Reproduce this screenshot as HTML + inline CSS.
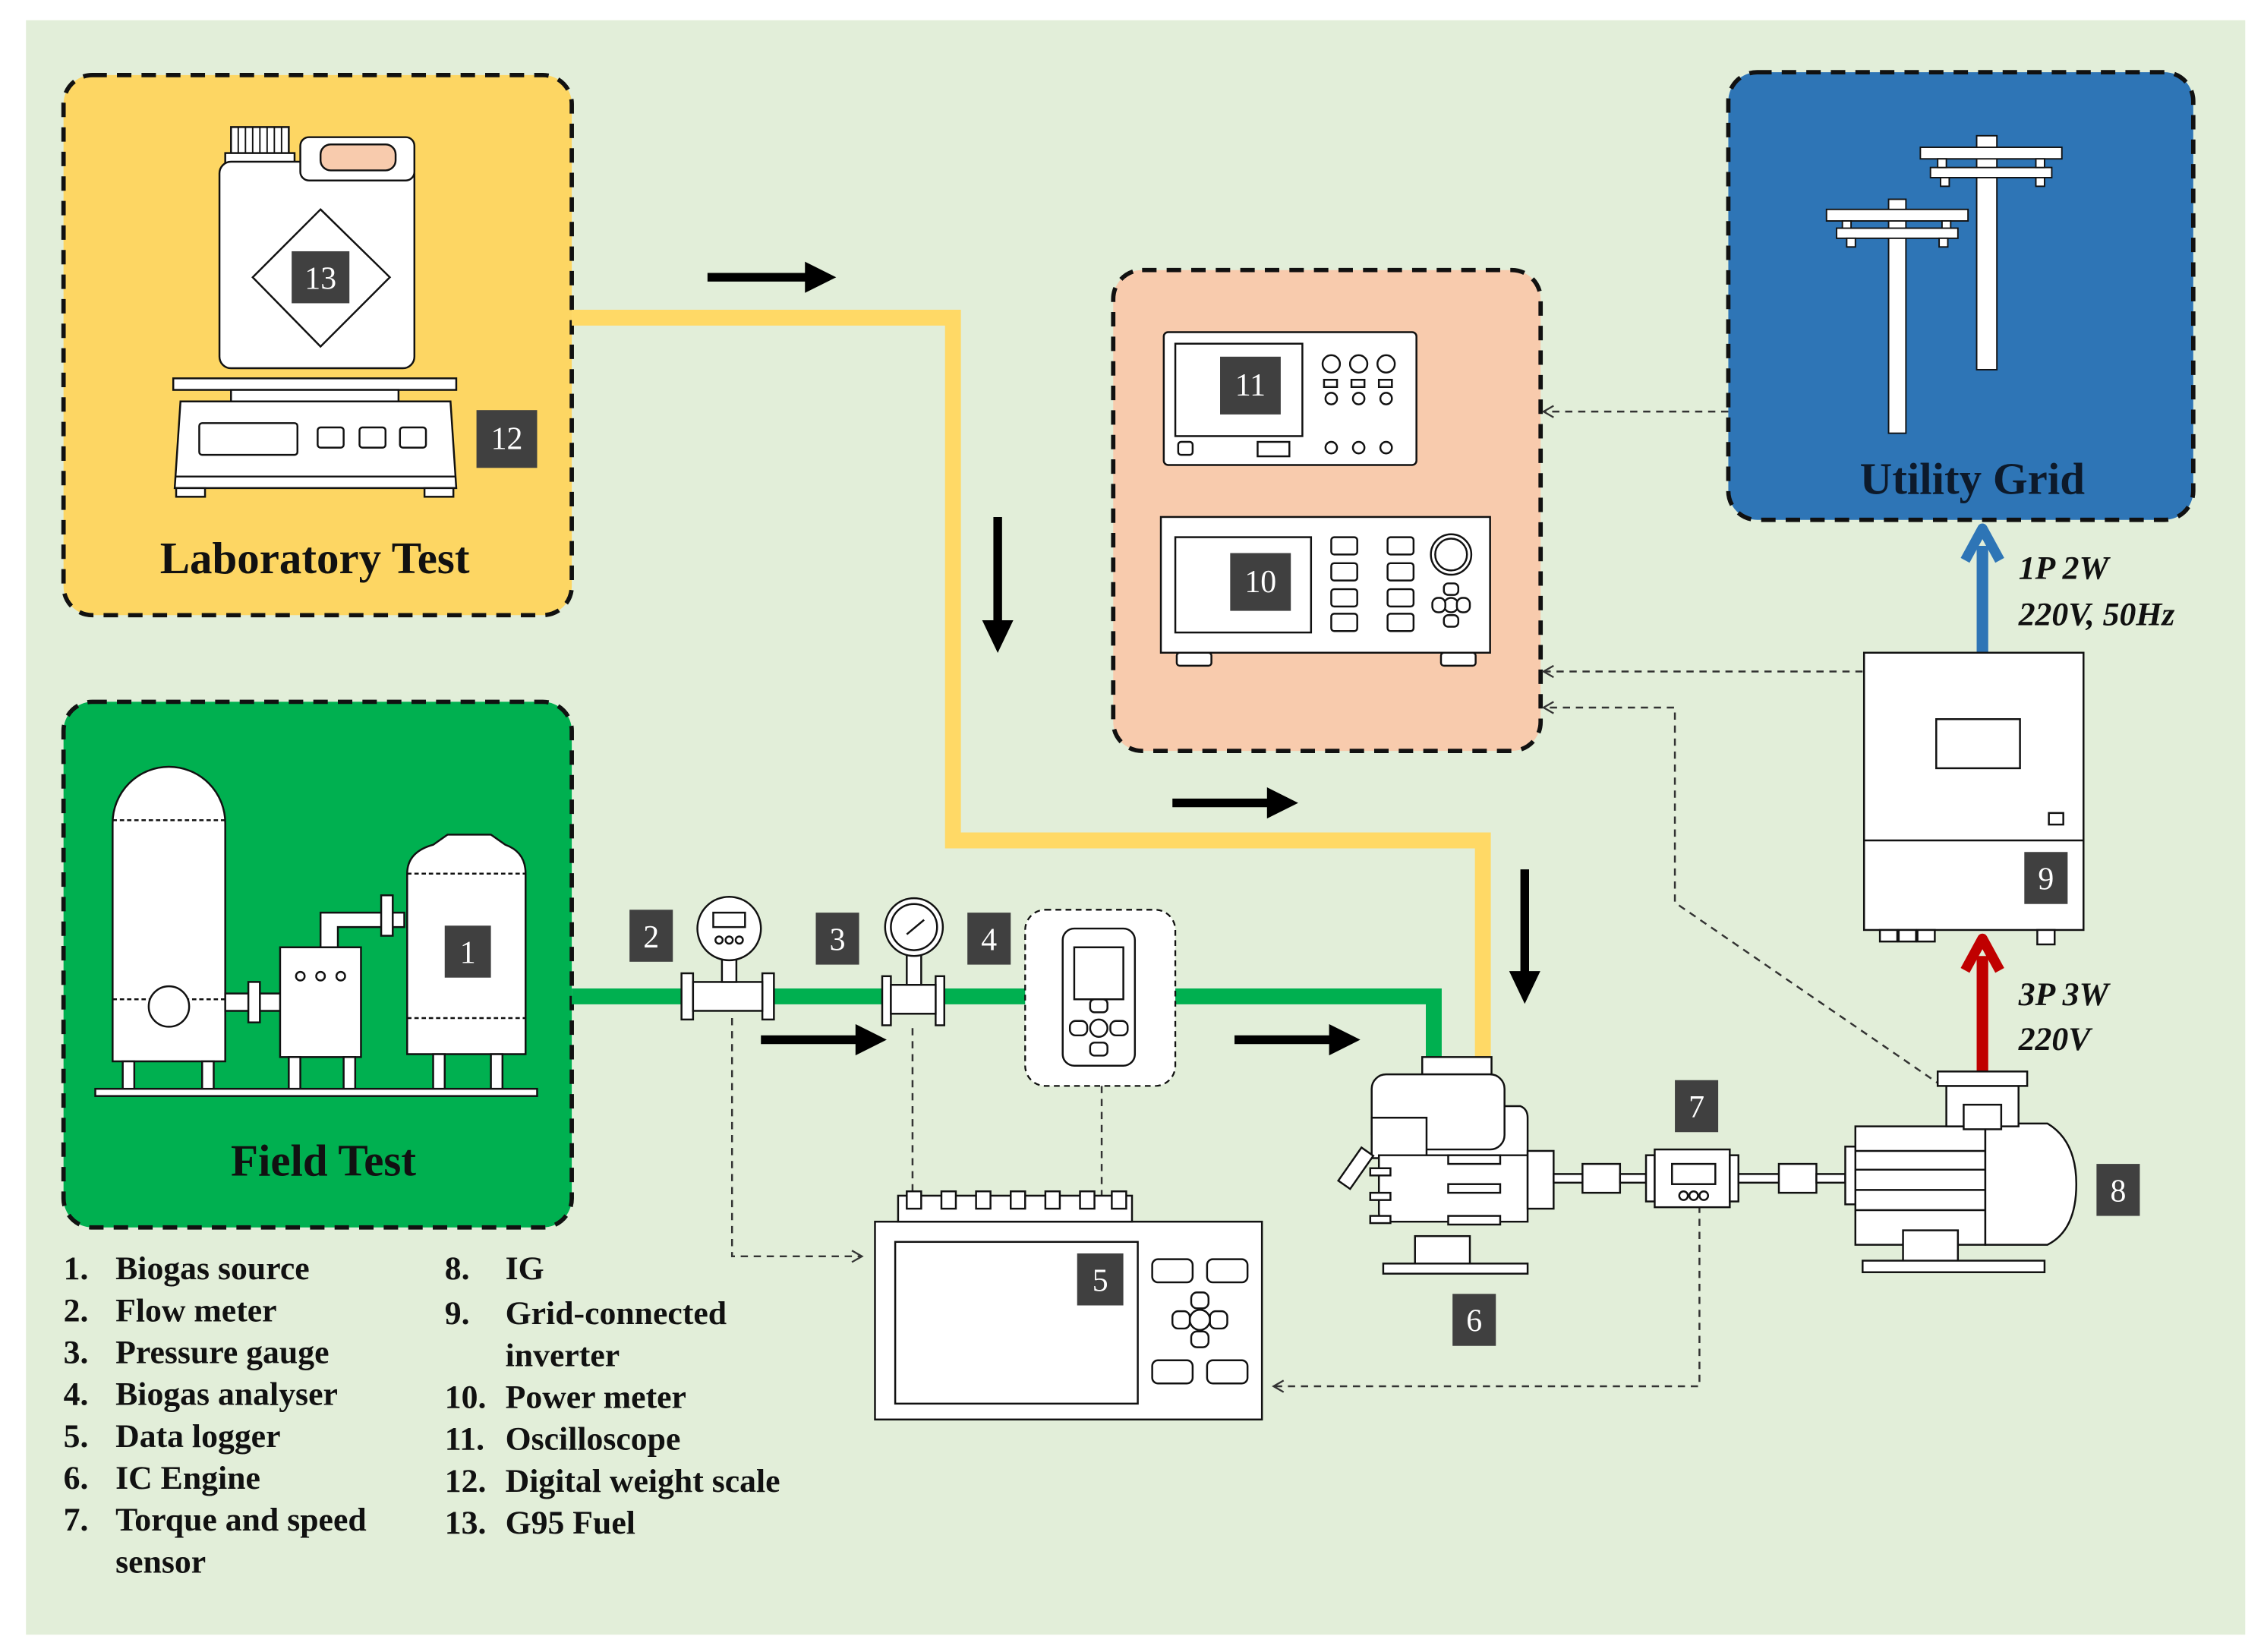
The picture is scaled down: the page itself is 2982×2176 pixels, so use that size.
<!DOCTYPE html>
<html><head><meta charset="utf-8"><style>
html,body{margin:0;padding:0;background:#fff;}
svg{display:block;}
.t{font-family:"Liberation Serif",serif;font-weight:bold;}
.n{font-family:"Liberation Serif",serif;fill:#fff;font-size:22px;text-anchor:middle;}
</style></head><body>
<svg width="2982" height="2176" viewBox="0 0 1568 1144" preserveAspectRatio="none" xmlns="http://www.w3.org/2000/svg">
<defs>
<marker id="oa" markerWidth="10" markerHeight="10" refX="8" refY="5" orient="auto" markerUnits="userSpaceOnUse"><path d="M1,1 L8,5 L1,9" fill="none" stroke="#333" stroke-width="1.2"/></marker>
</defs>
<rect x="0" y="0" width="1568" height="1144" fill="#fff"/>
<rect x="18" y="14" width="1537" height="1118" fill="#e2eed9"/>

<rect x="44" y="52" width="352" height="374" rx="20" fill="#fdd663" stroke="#111" stroke-width="3" stroke-dasharray="10,7"/>
<rect x="44" y="486" width="352" height="364" rx="20" fill="#00b050" stroke="#111" stroke-width="3" stroke-dasharray="10,7"/>
<rect x="771" y="187" width="296" height="333" rx="20" fill="#f8cbad" stroke="#111" stroke-width="3" stroke-dasharray="10,7"/>
<rect x="1197" y="50" width="322" height="310" rx="20" fill="#2e75b6" stroke="#111" stroke-width="3" stroke-dasharray="10,7"/>

<path d="M396,220 H660 V582 H1027 V735" fill="none" stroke="#ffd966" stroke-width="11"/>
<path d="M396,690 H993 V735" fill="none" stroke="#00b050" stroke-width="11"/>

<g fill="#000" stroke="#000">
<line x1="490" y1="192" x2="560" y2="192" stroke-width="6"/><path d="M558,182 L578,192 L558,202Z"/>
<line x1="691" y1="358" x2="691" y2="432" stroke-width="6"/><path d="M681,430 L691,451 L701,430Z"/>
<line x1="812" y1="556" x2="880" y2="556" stroke-width="6"/><path d="M878,546 L898,556 L878,566Z"/>
<line x1="1056" y1="602" x2="1056" y2="675" stroke-width="6"/><path d="M1046,673 L1056,694 L1066,673Z"/>
<line x1="527" y1="720" x2="595" y2="720" stroke-width="6"/><path d="M593,710 L613,720 L593,730Z"/>
<line x1="855" y1="720" x2="923" y2="720" stroke-width="6"/><path d="M921,710 L941,720 L921,730Z"/>
</g>
<line x1="1373" y1="452" x2="1373" y2="378" stroke="#2e75b6" stroke-width="8"/>
<path d="M1361,388 L1373,366 L1385,388" fill="none" stroke="#2e75b6" stroke-width="7" stroke-linejoin="round"/>
<line x1="1373" y1="742" x2="1373" y2="662" stroke="#c00000" stroke-width="8"/>
<path d="M1361,672 L1373,650 L1385,672" fill="none" stroke="#c00000" stroke-width="7" stroke-linejoin="round"/>
<text class="t" x="1398" y="401" font-size="23" font-style="italic" fill="#111">1P 2W</text>
<text class="t" x="1398" y="433" font-size="23" font-style="italic" fill="#111">220V, 50Hz</text>
<text class="t" x="1398" y="696" font-size="23" font-style="italic" fill="#111">3P 3W</text>
<text class="t" x="1398" y="727" font-size="23" font-style="italic" fill="#111">220V</text>

<g fill="none" stroke="#333" stroke-width="1.3" stroke-dasharray="5,4">
<path d="M1197,285 H1069" marker-end="url(#oa)"/>
<path d="M1290,465 H1069" marker-end="url(#oa)"/>
<path d="M1345,752 L1160,625 V490 H1069" marker-end="url(#oa)"/>
<path d="M507,705 V870 H597" marker-end="url(#oa)"/>
<path d="M632,712 V847" marker-end="url(#oa)"/>
<path d="M763,752 V847" marker-end="url(#oa)"/>
<path d="M1177,835 V960 H882" marker-end="url(#oa)"/>
</g>

<g stroke="#111" stroke-width="1.3" fill="#fff">
<rect x="160" y="88" width="40" height="20"/>
<rect x="156" y="106" width="48" height="8"/>
<rect x="152" y="112" width="135" height="143" rx="8"/>
<rect x="208" y="95" width="79" height="30" rx="6"/>
<rect x="222" y="100" width="52" height="18" rx="7" fill="#f8cbad"/>
<path d="M222,145 L270,192 L222,240 L175,192Z"/>
<rect x="120" y="262" width="196" height="8"/>
<rect x="160" y="270" width="116" height="8"/>
<path d="M125,278 H312 L316,338 H121Z"/>
<rect x="138" y="293" width="68" height="22" rx="2"/>
<rect x="220" y="296" width="18" height="14" rx="2"/><rect x="249" y="296" width="18" height="14" rx="2"/><rect x="277" y="296" width="18" height="14" rx="2"/>
<line x1="121" y1="330" x2="316" y2="330"/>
<rect x="122" y="338" width="20" height="6"/><rect x="294" y="338" width="20" height="6"/>
</g>
<g stroke="#111" stroke-width="1" fill="none"><path d="M165,88 V106 M170,88 V106 M175,88 V106 M180,88 V106 M185,88 V106 M190,88 V106 M195,88 V106"/></g>
<rect x="202" y="174" width="40" height="36" fill="#404040"/><text class="n" x="222" y="200">13</text>
<rect x="330" y="284" width="42" height="40" fill="#404040"/><text class="n" x="351" y="311">12</text>
<text class="t" x="218" y="397" font-size="31" text-anchor="middle" fill="#111">Laboratory Test</text>

<g stroke="#111" stroke-width="1.3" fill="#fff">
<path d="M78,735 V570 A39,39 0 0 1 156,570 V735Z"/>
<line x1="78" y1="568" x2="156" y2="568" stroke-dasharray="3,2"/>
<line x1="78" y1="692" x2="156" y2="692" stroke-dasharray="3,2"/>
<circle cx="117" cy="697" r="14"/>
<rect x="85" y="735" width="8" height="20"/><rect x="140" y="735" width="8" height="20"/>
<path d="M156,688 H198 V700 H156Z"/>
<rect x="172" y="680" width="8" height="28"/>
<rect x="194" y="656" width="56" height="76"/>
<path d="M222,656 V632 H280 V642 H234 V656Z"/>
<rect x="264" y="620" width="8" height="28"/>
<path d="M282,730 V605 Q282,590 300,585 L310,578 H340 L350,585 Q364,590 364,605 V730Z"/>
<path d="M282,605 H364 M282,705 H364" stroke-dasharray="3,2" fill="none"/>
<rect x="200" y="732" width="8" height="22"/><rect x="238" y="732" width="8" height="22"/>
<rect x="300" y="730" width="8" height="24"/><rect x="340" y="730" width="8" height="24"/>
<rect x="66" y="754" width="306" height="5"/>
<circle cx="208" cy="676" r="3"/><circle cx="222" cy="676" r="3"/><circle cx="236" cy="676" r="3"/>
</g>
<rect x="308" y="641" width="32" height="36" fill="#404040"/><text class="n" x="324" y="667">1</text>
<text class="t" x="224" y="814" font-size="31" text-anchor="middle" fill="#111">Field Test</text>

<g stroke="#111" stroke-width="1.3" fill="#fff">
<rect x="472" y="674" width="8" height="32"/><rect x="528" y="674" width="8" height="32"/>
<rect x="480" y="680" width="48" height="20"/>
<rect x="500" y="660" width="10" height="20"/>
<circle cx="505" cy="643" r="22"/>
<rect x="494" y="632" width="22" height="10"/>
<circle cx="498" cy="651" r="2.5"/><circle cx="505" cy="651" r="2.5"/><circle cx="512" cy="651" r="2.5"/>
<rect x="611" y="676" width="6" height="34"/><rect x="648" y="676" width="6" height="34"/>
<rect x="617" y="682" width="31" height="20"/>
<rect x="628" y="660" width="10" height="22"/>
<circle cx="633" cy="642" r="20"/><circle cx="633" cy="642" r="16"/>
<line x1="628" y1="647" x2="640" y2="637"/>
</g>
<rect x="436" y="630" width="30" height="36" fill="#404040"/><text class="n" x="451" y="656">2</text>
<rect x="565" y="632" width="30" height="36" fill="#404040"/><text class="n" x="580" y="658">3</text>
<rect x="670" y="632" width="30" height="36" fill="#404040"/><text class="n" x="685" y="658">4</text>
<rect x="710" y="630" width="104" height="122" rx="14" fill="#fff" stroke="#111" stroke-width="1.2" stroke-dasharray="4,3"/>
<g stroke="#111" stroke-width="1.3" fill="#fff">
<rect x="736" y="643" width="50" height="95" rx="8"/>
<rect x="744" y="656" width="34" height="36"/>
<circle cx="761" cy="712" r="6"/><rect x="741" y="707" width="12" height="10" rx="4"/><rect x="769" y="707" width="12" height="10" rx="4"/>
<rect x="755" y="692" width="12" height="9" rx="3"/><rect x="755" y="722" width="12" height="9" rx="3"/>
</g>
<g stroke="#111" stroke-width="1.3" fill="#fff">
<rect x="606" y="846" width="268" height="137"/>
<rect x="622" y="828" width="162" height="18"/>
<rect x="628" y="825" width="10" height="12"/><rect x="652" y="825" width="10" height="12"/><rect x="676" y="825" width="10" height="12"/><rect x="700" y="825" width="10" height="12"/><rect x="724" y="825" width="10" height="12"/><rect x="748" y="825" width="10" height="12"/><rect x="770" y="825" width="10" height="12"/>
<rect x="620" y="860" width="168" height="112"/>
<rect x="798" y="872" width="28" height="16" rx="4"/><rect x="836" y="872" width="28" height="16" rx="4"/>
<rect x="798" y="942" width="28" height="16" rx="4"/><rect x="836" y="942" width="28" height="16" rx="4"/>
<circle cx="831" cy="914" r="7"/><rect x="812" y="908" width="12" height="12" rx="4"/><rect x="838" y="908" width="12" height="12" rx="4"/><rect x="825" y="895" width="12" height="11" rx="4"/><rect x="825" y="922" width="12" height="11" rx="4"/>
</g>
<rect x="746" y="868" width="32" height="36" fill="#404040"/><text class="n" x="762" y="894">5</text>

<g stroke="#111" stroke-width="1.3" fill="#fff">
<rect x="985" y="732" width="48" height="12"/>
<path d="M966,830 V774 Q966,768 972,766 H1053 Q1058,768 1058,774 V830Z"/>
<rect x="950" y="744" width="92" height="52" rx="10"/>
<rect x="950" y="774" width="38" height="28"/>
<path d="M955,800 V840 Q955,846 962,846 H1058 V800Z"/>
<rect x="1058" y="797" width="18" height="40"/>
<rect x="934" y="795" width="10" height="28" transform="rotate(35 939 809)"/>
<rect x="949" y="809" width="14" height="5"/><rect x="949" y="826" width="14" height="5"/><rect x="949" y="842" width="14" height="5"/>
<rect x="1003" y="800" width="36" height="6"/><rect x="1003" y="820" width="36" height="6"/><rect x="1003" y="842" width="36" height="6"/>
<rect x="980" y="856" width="38" height="20"/>
<rect x="958" y="875" width="100" height="7"/>
<rect x="1076" y="813" width="22" height="6"/>
<rect x="1096" y="806" width="26" height="20"/>
<rect x="1122" y="813" width="18" height="6"/>
<rect x="1140" y="800" width="6" height="32"/>
<rect x="1146" y="796" width="52" height="40"/>
<rect x="1198" y="800" width="6" height="32"/>
<rect x="1158" y="806" width="30" height="14"/>
<circle cx="1166" cy="828" r="3"/><circle cx="1173" cy="828" r="3"/><circle cx="1180" cy="828" r="3"/>
<rect x="1204" y="813" width="30" height="6"/>
<rect x="1232" y="806" width="26" height="20"/>
<rect x="1258" y="813" width="20" height="6"/>
<rect x="1278" y="794" width="8" height="40"/>
<rect x="1285" y="780" width="90" height="82"/>
<path d="M1375,778 H1418 Q1438,790 1438,820 Q1438,852 1418,862 H1375Z"/>
<line x1="1285" y1="797" x2="1375" y2="797"/><line x1="1285" y1="810" x2="1375" y2="810"/><line x1="1285" y1="824" x2="1375" y2="824"/><line x1="1285" y1="838" x2="1375" y2="838"/>
<rect x="1318" y="852" width="38" height="22"/>
<rect x="1290" y="873" width="126" height="8"/>
<rect x="1348" y="752" width="50" height="28"/>
<rect x="1342" y="742" width="62" height="10"/>
<rect x="1360" y="765" width="26" height="17"/>
</g>
<rect x="1006" y="896" width="30" height="36" fill="#404040"/><text class="n" x="1021" y="922">6</text>
<rect x="1160" y="748" width="30" height="36" fill="#404040"/><text class="n" x="1175" y="774">7</text>
<rect x="1452" y="806" width="30" height="36" fill="#404040"/><text class="n" x="1467" y="832">8</text>

<g stroke="#111" stroke-width="1.3" fill="#fff">
<rect x="1291" y="452" width="152" height="192"/>
<line x1="1291" y1="582" x2="1443" y2="582"/>
<rect x="1341" y="498" width="58" height="34"/>
<rect x="1419" y="563" width="10" height="8"/>
<rect x="1302" y="644" width="12" height="8"/><rect x="1315" y="644" width="12" height="8"/><rect x="1328" y="644" width="12" height="8"/>
<rect x="1411" y="644" width="12" height="10"/>
</g>
<rect x="1402" y="590" width="30" height="36" fill="#404040"/><text class="n" x="1417" y="616">9</text>

<g stroke="#111" stroke-width="1.3" fill="#fff">
<rect x="806" y="230" width="175" height="92" rx="3"/>
<rect x="814" y="238" width="88" height="64"/>
<circle cx="922" cy="252" r="6"/><circle cx="941" cy="252" r="6"/><circle cx="960" cy="252" r="6"/>
<rect x="917" y="263" width="9" height="5"/><rect x="936" y="263" width="9" height="5"/><rect x="955" y="263" width="9" height="5"/>
<circle cx="922" cy="276" r="4"/><circle cx="941" cy="276" r="4"/><circle cx="960" cy="276" r="4"/>
<circle cx="922" cy="310" r="4"/><circle cx="941" cy="310" r="4"/><circle cx="960" cy="310" r="4"/>
<rect x="816" y="306" width="10" height="9" rx="2"/><rect x="871" y="306" width="22" height="10"/>
<rect x="804" y="358" width="228" height="94"/>
<rect x="814" y="372" width="94" height="66"/>
<rect x="922" y="372" width="18" height="12" rx="2"/><rect x="922" y="390" width="18" height="12" rx="2"/><rect x="922" y="408" width="18" height="12" rx="2"/><rect x="922" y="425" width="18" height="12" rx="2"/>
<rect x="961" y="372" width="18" height="12" rx="2"/><rect x="961" y="390" width="18" height="12" rx="2"/><rect x="961" y="408" width="18" height="12" rx="2"/><rect x="961" y="425" width="18" height="12" rx="2"/>
<circle cx="1005" cy="384" r="14"/><circle cx="1005" cy="384" r="11"/>
<circle cx="1005" cy="419" r="5"/><rect x="992" y="414" width="9" height="10" rx="4"/><rect x="1009" y="414" width="9" height="10" rx="4"/><rect x="1000" y="404" width="10" height="8" rx="3"/><rect x="1000" y="426" width="10" height="8" rx="3"/>
<rect x="815" y="452" width="24" height="9" rx="2"/><rect x="998" y="452" width="24" height="9" rx="2"/>
</g>
<rect x="845" y="247" width="42" height="40" fill="#404040"/><text class="n" x="866" y="274">11</text>
<rect x="852" y="383" width="42" height="40" fill="#404040"/><text class="n" x="873" y="410">10</text>

<g stroke="#111" stroke-width="1" fill="#fff">
<rect x="1308" y="138" width="12" height="162"/>
<rect x="1265" y="145" width="98" height="8"/><rect x="1272" y="158" width="84" height="7"/>
<rect x="1276" y="153" width="6" height="5"/><rect x="1345" y="153" width="6" height="5"/>
<rect x="1279" y="165" width="6" height="6"/><rect x="1343" y="165" width="6" height="6"/>
<rect x="1369" y="94" width="14" height="162"/>
<rect x="1330" y="102" width="98" height="8"/><rect x="1337" y="116" width="84" height="7"/>
<rect x="1342" y="110" width="6" height="6"/><rect x="1410" y="110" width="6" height="6"/>
<rect x="1344" y="123" width="6" height="6"/><rect x="1410" y="123" width="6" height="6"/>
</g>
<text class="t" x="1366" y="342" font-size="31" text-anchor="middle" fill="#0d1a2b">Utility Grid</text>

<g class="t" font-size="23" fill="#111">
<text x="44" y="886">1.</text><text x="80" y="886">Biogas source</text>
<text x="44" y="915">2.</text><text x="80" y="915">Flow meter</text>
<text x="44" y="944">3.</text><text x="80" y="944">Pressure gauge</text>
<text x="44" y="973">4.</text><text x="80" y="973">Biogas analyser</text>
<text x="44" y="1002">5.</text><text x="80" y="1002">Data logger</text>
<text x="44" y="1031">6.</text><text x="80" y="1031">IC Engine</text>
<text x="44" y="1060">7.</text><text x="80" y="1060">Torque and speed</text>
<text x="80" y="1089">sensor</text>
<text x="308" y="886">8.</text><text x="350" y="886">IG</text>
<text x="308" y="917">9.</text><text x="350" y="917">Grid-connected</text>
<text x="350" y="946">inverter</text>
<text x="308" y="975">10.</text><text x="350" y="975">Power meter</text>
<text x="308" y="1004">11.</text><text x="350" y="1004">Oscilloscope</text>
<text x="308" y="1033">12.</text><text x="350" y="1033">Digital weight scale</text>
<text x="308" y="1062">13.</text><text x="350" y="1062">G95 Fuel</text>
</g>
</svg>
</body></html>
